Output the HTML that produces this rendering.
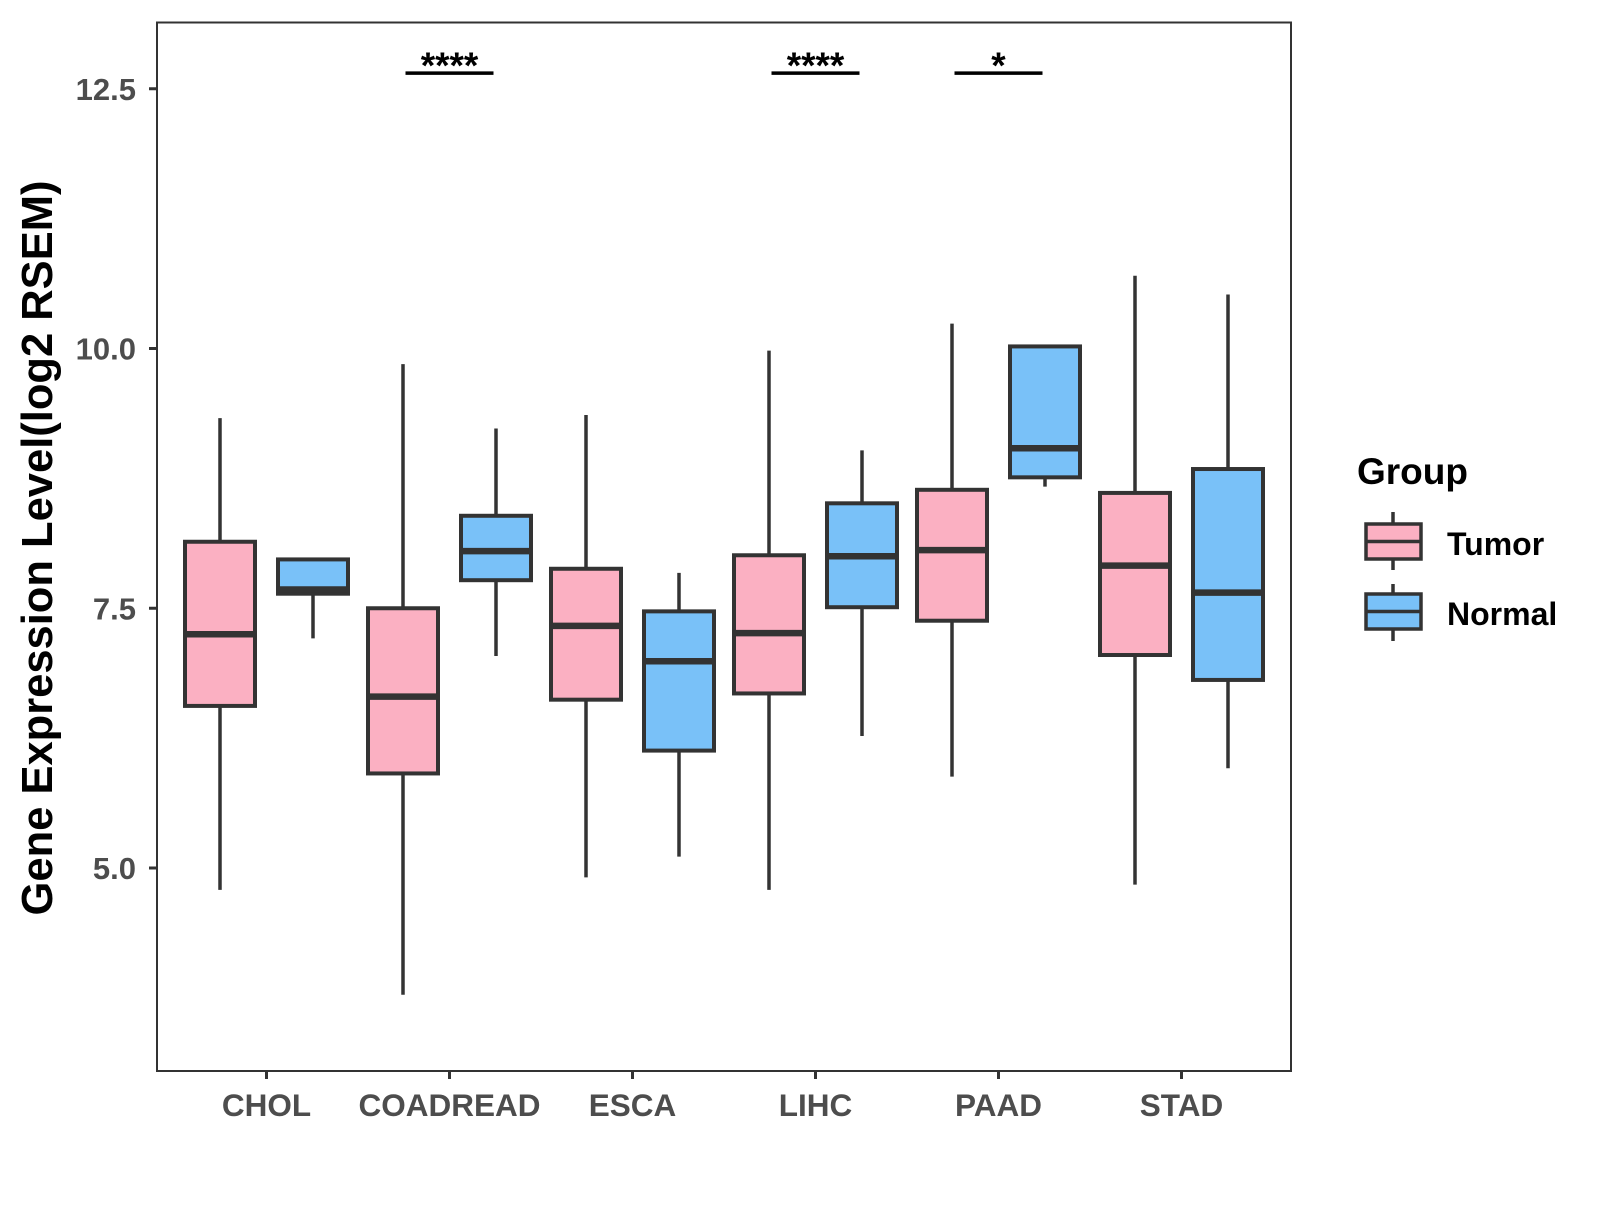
<!DOCTYPE html>
<html><head><meta charset="utf-8"><style>
html,body{margin:0;padding:0;background:#fff;}
svg text{font-family:"Liberation Sans",Arial,sans-serif;font-weight:bold;}
</style></head><body>
<svg id="chart" width="1600" height="1200" viewBox="0 0 1600 1200" xmlns="http://www.w3.org/2000/svg">
<rect x="157" y="22.5" width="1134" height="1048.5" fill="#fff" stroke="#333" stroke-width="2"/>
<g id="marks"></g>
<text transform="translate(52,548) rotate(-90)" text-anchor="middle" font-size="43.5" fill="#000">Gene Expression Level(log2 RSEM)</text>
<text x="1357" y="484" font-size="37" fill="#000">Group</text>
<g>
<line x1="1393" y1="512" x2="1393" y2="570" stroke="#333" stroke-width="3.5"/>
<rect x="1366" y="524" width="55" height="35" fill="#FBB0C2" stroke="#333" stroke-width="3.5"/>
<line x1="1366" y1="541.5" x2="1421" y2="541.5" stroke="#333" stroke-width="3.5"/>
<text x="1447" y="555" font-size="32" fill="#000">Tumor</text>
</g>
<g>
<line x1="1393" y1="584" x2="1393" y2="641" stroke="#333" stroke-width="3.5"/>
<rect x="1366" y="594" width="55" height="35" fill="#79C1F8" stroke="#333" stroke-width="3.5"/>
<line x1="1366" y1="611.5" x2="1421" y2="611.5" stroke="#333" stroke-width="3.5"/>
<text x="1447" y="625" font-size="32" fill="#000">Normal</text>
</g>
</svg>
<script>
const categories = ["CHOL","COADREAD","ESCA","LIHC","PAAD","STAD"];
// [low, q1, median, q3, high]
const tumorStats = [
 [4.79,6.56,7.25,8.14,9.33],
 [3.78,5.91,6.65,7.50,9.85],
 [4.91,6.62,7.33,7.88,9.36],
 [4.79,6.68,7.26,8.01,9.98],
 [5.88,7.38,8.06,8.64,10.24],
 [4.84,7.05,7.91,8.61,10.70]
];
const normalStats = [
 [7.21,7.64,7.68,7.97,7.97],
 [7.04,7.77,8.05,8.39,9.23],
 [5.11,6.13,6.99,7.47,7.84],
 [6.27,7.51,8.00,8.51,9.02],
 [8.67,8.76,9.04,10.02,10.02],
 [5.96,6.81,7.65,8.84,10.52]
];
const yTicks = [5.0,7.5,10.0,12.5];
const yTickLabels = ["5.0","7.5","10.0","12.5"];
const sigCategories = ["COADREAD","LIHC","PAAD"];
const sigLabels = ["****","****","*"];
const sigLevel = 12.65;

const svgNS="http://www.w3.org/2000/svg";
const g=document.getElementById('marks');
function y(v){return 868-(v-5)*103.9;}
function x(i){return 266.5+i*183;}
function mk(tag,attrs){const e=document.createElementNS(svgNS,tag);for(const k in attrs)e.setAttribute(k,attrs[k]);g.appendChild(e);return e;}
const bw=70, off=46.5;
yTicks.forEach((t,i)=>{
  const l=mk('line',{x1:149,x2:157,y1:y(t),y2:y(t),stroke:'#333','stroke-width':3});
  
  
  const tx=mk('text',{x:136,y:y(t)+11,'text-anchor':'end','font-size':31,fill:'#4d4d4d'});
  tx.textContent=yTickLabels[i];
  
  
});
categories.forEach((c,i)=>{
  const l=mk('line',{x1:x(i),x2:x(i),y1:1071,y2:1079,stroke:'#333','stroke-width':3});
  
  
  const tx=mk('text',{x:x(i),y:1116,'text-anchor':'middle','font-size':31.5,fill:'#4d4d4d'});
  tx.textContent=c;
  
  
});
function box(cx,s,fill,name){
  const w=mk('line',{x1:cx,x2:cx,y1:y(s[0]),y2:y(s[4]),stroke:'#333','stroke-width':3.5});
  
  
  const r=mk('rect',{x:cx-bw/2,y:y(s[3]),width:bw,height:y(s[1])-y(s[3]),fill:fill,stroke:'#333','stroke-width':4});
  
  
  const m=mk('line',{x1:cx-bw/2,x2:cx+bw/2,y1:y(s[2]),y2:y(s[2]),stroke:'#333','stroke-width':6.5});
  
  
}
categories.forEach((c,i)=>{
  box(x(i)-off,tumorStats[i],'#FBB0C2',c.toLowerCase()+'-tumor');
  box(x(i)+off,normalStats[i],'#79C1F8',c.toLowerCase()+'-normal');
});
sigCategories.forEach((c,k)=>{
  const i=categories.indexOf(c);
  const l=mk('line',{x1:x(i)-44,x2:x(i)+44,y1:y(sigLevel),y2:y(sigLevel),stroke:'#000','stroke-width':3.5});
  
  
  const t=mk('text',{x:x(i),y:y(sigLevel)+5,'text-anchor':'middle','font-size':37,fill:'#000'});
  t.textContent=sigLabels[k];
  
  
});
</script>
</body></html>
